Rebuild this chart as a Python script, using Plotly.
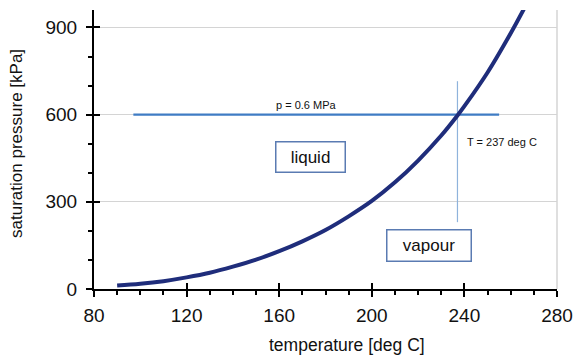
import plotly.graph_objects as go

# Saturation curve
temperature = [90, 100, 110, 120, 130, 140, 150, 160, 170, 180, 190, 200, 210, 220, 230, 237, 240, 250, 260, 266]
pressure = [12, 18, 27, 40, 56, 77, 101, 130, 164, 203, 250, 303, 367, 442, 528, 597, 629, 745, 880, 968]

# Isobar p = 0.6 MPa
isobar_t = [97, 255]
isobar_p = [600, 600]

# Saturation temperature marker
tsat_t = [237, 237]
tsat_p = [230, 715]

x_ticks = [80, 120, 160, 200, 240, 280]
y_ticks = [0, 300, 600, 900]

fig = go.Figure()

fig.add_trace(go.Scatter(x=isobar_t, y=isobar_p, mode="lines",
                         line=dict(color="#3f7cc4", width=2.2), hoverinfo="skip"))
fig.add_trace(go.Scatter(x=tsat_t, y=tsat_p, mode="lines",
                         line=dict(color="#8fb3dc", width=1.2), hoverinfo="skip"))
fig.add_trace(go.Scatter(x=temperature, y=pressure, mode="lines", line_shape="spline",
                         line=dict(color="#1f2d7b", width=4), hoverinfo="skip"))
# dummy trace for overlay axes (inside tick halves)
fig.add_trace(go.Scatter(x=[None], y=[None], xaxis="x2", yaxis="y2", hoverinfo="skip"))

font_main = "Liberation Sans, Arial, sans-serif"

fig.update_layout(
    width=576, height=359,
    margin=dict(l=94, r=19, t=10, b=70),
    paper_bgcolor="white", plot_bgcolor="white",
    showlegend=False,
    font=dict(family=font_main, color="#111111"),
    xaxis=dict(range=[80, 280], tickvals=x_ticks, ticks="outside", ticklen=6, tickwidth=2,
               tickcolor="black", showline=True, linecolor="black", linewidth=2,
               showgrid=False, zeroline=False, automargin=False, ticklabelstandoff=2,
               minor=dict(dtick=10, ticks="outside", ticklen=4, tickwidth=1.5, tickcolor="black"),
               tickfont=dict(size=19, family=font_main, color="#111111")),
    yaxis=dict(range=[0, 960], tickvals=y_ticks, ticks="outside", ticklen=6, tickwidth=2,
               tickcolor="black", showline=True, linecolor="black", linewidth=2,
               showgrid=True, gridcolor="#d4d4d4", gridwidth=1, zeroline=False, automargin=False,
               ticklabelstandoff=5,
               minor=dict(dtick=100, ticks="outside", ticklen=4, tickwidth=1.5, tickcolor="black", showgrid=False),
               tickfont=dict(size=19, family=font_main, color="#111111")),
    xaxis2=dict(range=[80, 280], overlaying="x", anchor="y2", tickvals=x_ticks, ticks="inside",
                ticklen=6, tickwidth=2, tickcolor="black", showticklabels=False, showgrid=False,
                zeroline=False, showline=False, automargin=False),
    yaxis2=dict(range=[0, 960], overlaying="y", anchor="x2", tickvals=y_ticks, ticks="inside",
                ticklen=6, tickwidth=2, tickcolor="black", showticklabels=False, showgrid=False,
                zeroline=False, showline=False, automargin=False),
)

# right frame line
fig.add_shape(type="line", xref="x domain", yref="y domain", x0=1, x1=1, y0=0, y1=1,
              line=dict(color="#d4d4d4", width=1.5), layer="below")

# axis titles (paper coords are relative to the plot area)
fig.add_annotation(xref="paper", yref="paper", x=0.546, y=-0.2007, yanchor="middle",
                   text="temperature [deg C]", showarrow=False,
                   font=dict(size=17.5, family=font_main, color="#111111"))
fig.add_annotation(xref="paper", yref="paper", x=-0.1663, y=0.52, textangle=-90,
                   xanchor="center", yanchor="middle",
                   text="saturation pressure [kPa]", showarrow=False,
                   font=dict(size=17, family=font_main, color="#111111"))

fig.add_annotation(x=172, y=634, text="p = 0.6 MPa", showarrow=False,
                   font=dict(size=11, family=font_main, color="#111111"))
fig.add_annotation(x=240.3, y=507, text="T = 237 deg C", showarrow=False, xanchor="left",
                   font=dict(size=11, family=font_main, color="#111111"))
fig.add_annotation(x=173.7, y=455, text="liquid", showarrow=False,
                   width=66, height=27, borderpad=1, bordercolor="#5a7bb2", borderwidth=1.5,
                   bgcolor="white", font=dict(size=17, family=font_main, color="#111111"))
fig.add_annotation(x=224.7, y=148, text="vapour", showarrow=False,
                   width=81, height=28, borderpad=1, bordercolor="#5a7bb2", borderwidth=1.5,
                   bgcolor="white", font=dict(size=17, family=font_main, color="#111111"))

fig.write_html("out.html")
